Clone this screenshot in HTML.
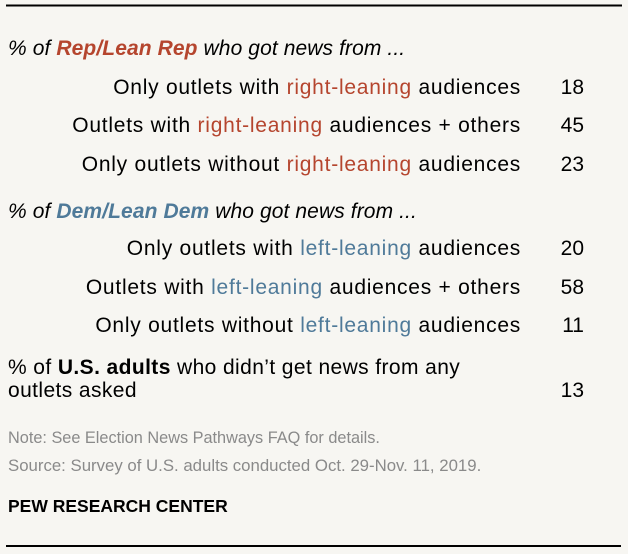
<!DOCTYPE html>
<html><head><meta charset="utf-8"><style>
html,body{margin:0;padding:0;background:#f7f6f2;}
svg{display:block;font-family:"Liberation Sans",sans-serif;}
</style></head><body>
<svg id="chart" width="628" height="554" viewBox="0 0 628 554">
<rect width="628" height="554" fill="#f7f6f2"/>
<line x1="6" y1="5.5" x2="622" y2="5.5" stroke="#000" stroke-width="2"/>
<text x="8" y="55" font-size="21" letter-spacing="0.1" font-style="italic" fill="#000">% of <tspan font-weight="bold" fill="#b5452e">Rep/Lean Rep</tspan> who got news from ...</text>
<text x="8" y="218" font-size="21" letter-spacing="0.1" font-style="italic" fill="#000">% of <tspan font-weight="bold" fill="#4f7a99">Dem/Lean Dem</tspan> who got news from ...</text>
<g id="rows"></g>
<text x="8" y="374" font-size="21" letter-spacing="0.4" fill="#000">% of <tspan font-weight="bold">U.S. adults</tspan> who didn’t get news from any</text>
<text x="8" y="397" font-size="21" letter-spacing="0.4" fill="#000">outlets asked</text>
<text id="usval" x="584" y="397" font-size="21" text-anchor="end" fill="#000"></text>
<text x="8" y="443" font-size="16.3" fill="#8a8a8a">Note: See Election News Pathways FAQ for details.</text>
<text x="8" y="471" font-size="16.8" fill="#8a8a8a">Source: Survey of U.S. adults conducted Oct. 29-Nov. 11, 2019.</text>
<text x="8" y="512" font-size="17.5" font-weight="bold" fill="#000">PEW RESEARCH CENTER</text>
<line x1="6" y1="546" x2="621" y2="546" stroke="#000" stroke-width="2"/>
</svg>
<script>
const repPre = ["Only outlets with ", "Outlets with ", "Only outlets without "];
const repPost = [" audiences", " audiences + others", " audiences"];
const repValues = [18, 45, 23];
const demValues = [20, 58, 11];
const usAdultsValue = 13;
const NS = "http://www.w3.org/2000/svg";
const g = document.getElementById("rows");
function row(y, pre, colored, color, post, val, name) {
  const t = document.createElementNS(NS, "text");
  t.setAttribute("x", 521); t.setAttribute("y", y);
  t.setAttribute("font-size", 21); t.setAttribute("letter-spacing", 0.75); t.setAttribute("text-anchor", "end");
  
  
  const a = document.createElementNS(NS, "tspan"); a.textContent = pre;
  const b = document.createElementNS(NS, "tspan"); b.textContent = colored; b.setAttribute("fill", color);
  const c = document.createElementNS(NS, "tspan"); c.textContent = post;
  t.appendChild(a); t.appendChild(b); t.appendChild(c);
  g.appendChild(t);
  const v = document.createElementNS(NS, "text");
  v.setAttribute("x", 584); v.setAttribute("y", y);
  v.setAttribute("font-size", 21); v.setAttribute("text-anchor", "end");
  v.textContent = val;
  
  
  g.appendChild(v);
}
const repY = [94, 132, 171], demY = [255, 294, 332];
repValues.forEach((v, i) => row(repY[i], repPre[i], "right-leaning", "#b5452e", repPost[i], v, "rep-row-" + (i + 1)));
demValues.forEach((v, i) => row(demY[i], repPre[i], "left-leaning", "#4f7a99", repPost[i], v, "dem-row-" + (i + 1)));
document.getElementById("usval").textContent = usAdultsValue;
</script>
</body></html>
